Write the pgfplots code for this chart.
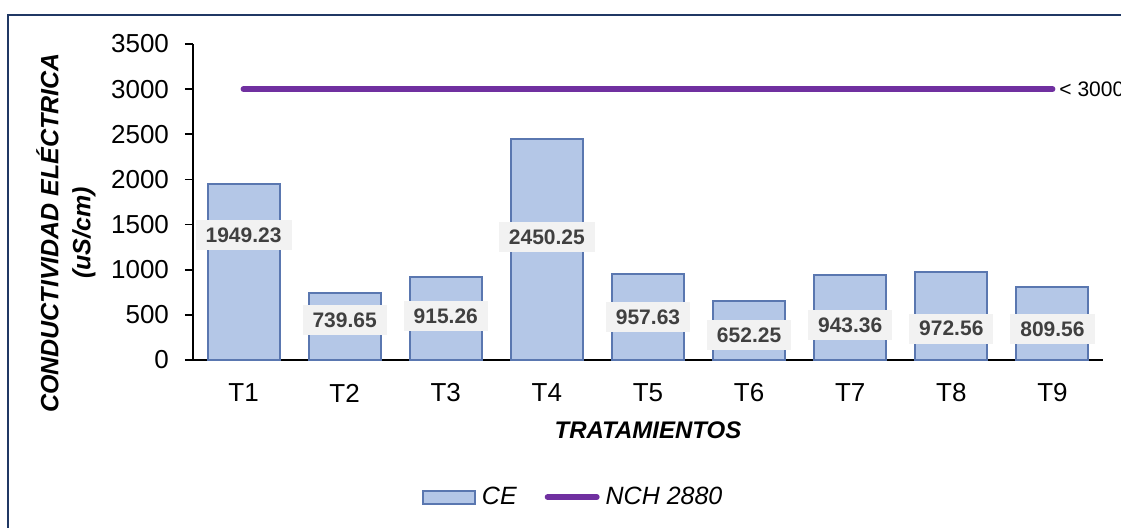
\documentclass[border=0pt]{standalone}
\usepackage{fontspec}
\setmainfont{Liberation Sans}
\usepackage{pgfplots}
\pgfplotsset{compat=1.18}
\definecolor{barfill}{HTML}{B4C7E7}
\definecolor{baredge}{HTML}{5A77B0}
\definecolor{nchline}{HTML}{7030A0}
\definecolor{framec}{HTML}{203864}
\definecolor{lblbox}{HTML}{F2F2F2}
\definecolor{lbltext}{HTML}{404040}
\begin{document}
\begin{tikzpicture}
\begin{axis}[
  at={(0,0)}, anchor=south west,
  scale only axis, width=455pt, height=158pt,
  xmin=0.5, xmax=9.5, ymin=0, ymax=3500,
  clip=false,
  axis lines*=left,
  axis line style={-, line width=1pt, black},
  xtick={1,2,3,4,5,6,7,8,9},
  xticklabels={T1,T2,T3,T4,T5,T6,T7,T8,T9},
  x tick style={draw=none},
  ytick={0,500,1000,1500,2000,2500,3000,3500},
  y tick style={black, line width=0.8pt},
  tick align=outside, major tick length=4pt,
  /pgf/number format/assume math mode=true,
  /pgf/number format/1000 sep={},
  tick label style={font=\fontsize{13}{15}\selectfont, black},
  yticklabel style={anchor=east, xshift=-4.5pt},
  xticklabel style={anchor=center, yshift=-12.5pt},
  xlabel={TRATAMIENTOS},
  xlabel style={at={(axis description cs:0.5,-0.222)}, anchor=center, font=\bfseries\itshape\fontsize{12}{14}\selectfont},
  ylabel={CONDUCTIVIDAD ELÉCTRICA\\(uS/cm)},
  ylabel style={at={(axis description cs:-0.1396,0.402)}, anchor=center, rotate=0, align=center, font=\bfseries\itshape\fontsize{12.5}{16}\selectfont},
  legend style={at={(axis description cs:0.420,-0.434)}, anchor=center, draw=none, fill=none,
    font=\itshape\fontsize{12.5}{15}\selectfont,
    nodes={inner xsep=3pt, inner ysep=1pt},
    /tikz/every even column/.append style={column sep=11pt}},
  legend columns=2,
]
\addplot[ybar, bar width=36pt, fill=barfill, draw=baredge, line width=1pt,
  legend image code/.code={\draw[fill=barfill, draw=baredge, line width=1pt] (0pt,-3.25pt) rectangle (26pt,3.25pt);}]
  coordinates {(1,1949.23) (2,739.65) (3,915.26) (4,2450.25) (5,957.63) (6,652.25) (7,943.36) (8,972.56) (9,809.56)};
\addlegendentry{CE}
\addplot[nchline, line width=3pt, line cap=round,
  legend image code/.code={\draw[nchline, line width=3pt, line cap=round] (1.5pt,0pt) -- (26pt,0pt);}]
  coordinates {(1,3000) (9,3000)}
  node[pos=1, anchor=west, black, font=\fontsize{10.5}{12}\selectfont, inner sep=1pt, xshift=1pt] {< 3000};
\addlegendentry{NCH 2880}
\addplot[forget plot, draw=none, only marks, mark=*, mark size=0pt, mark options={draw=none, fill=none},
  nodes near coords, point meta=explicit symbolic,
  every node near coord/.style={fill=lblbox, text=lbltext, font=\bfseries\fontsize{10.5}{12}\selectfont,
    anchor=center, inner xsep=5pt, inner ysep=0pt, minimum height=15pt}]
  table[meta=lbl] {
x y lbl
1 1381 1949.23
2 440 739.65
3 484 915.26
4 1357 2450.25
5 471 957.63
6 273 652.25
7 388 943.36
8 347 972.56
9 340 809.56
};
\end{axis}
\draw[framec, line width=1.2pt] (-92.5pt,-100pt) rectangle (480pt,172.5pt);
\pgfresetboundingbox
\useasboundingbox (-96.5pt,-83.5pt) rectangle (464pt,180pt);
\end{tikzpicture}
\end{document}
